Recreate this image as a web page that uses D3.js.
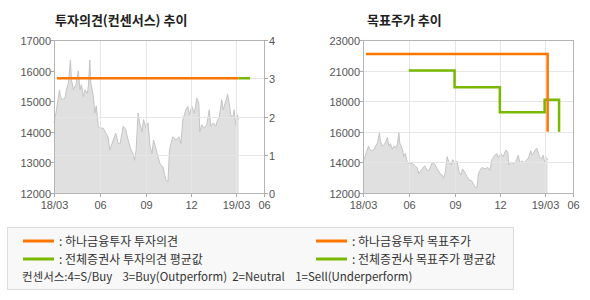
<!DOCTYPE html>
<html>
<head>
<meta charset="utf-8">
<script src="https://d3js.org/d3.v7.min.js"></script>
<style>
  body { margin: 0; background: #fff; }
  svg { display: block; font-family: "Noto Sans CJK KR", "DejaVu Sans", sans-serif; }
  .tick-label { font-size: 11px; fill: #555; font-family: "Liberation Sans", Arial, sans-serif; }
  .title { font-size: 13px; font-weight: bold; fill: #222; }
  .legend { font-size: 12px; fill: #333; }
  .legend-note { font-size: 11.5px; fill: #333; }
</style>
</head>
<body>
<svg width="590" height="300"></svg>
<script>
// x axis ticks
const tickDates = ['2018-03-01', '2018-06-01', '2018-09-01', '2018-12-01', '2019-03-01', '2019-04-27'];
const tickLabels = ['18/03', '06', '09', '12', '19/03', '06'];

// share price
const priceDates = [
  '2018-03-01','2018-03-05','2018-03-08','2018-03-12','2018-03-14','2018-03-18','2018-03-23','2018-03-26',
  '2018-03-30','2018-04-01','2018-04-03','2018-04-05','2018-04-09','2018-04-14','2018-04-19','2018-04-22',
  '2018-04-25','2018-04-29','2018-05-02','2018-05-07','2018-05-09','2018-05-12','2018-05-14','2018-05-19',
  '2018-05-22','2018-05-25','2018-05-29','2018-06-01','2018-06-08','2018-06-14','2018-06-18','2018-06-21',
  '2018-06-28','2018-07-03','2018-07-08','2018-07-12','2018-07-18','2018-07-23','2018-07-28','2018-08-03',
  '2018-08-07','2018-08-10','2018-08-13','2018-08-17','2018-08-20','2018-08-25','2018-08-28','2018-09-02',
  '2018-09-06','2018-09-10','2018-09-14','2018-09-17','2018-09-21','2018-09-26','2018-09-30','2018-10-06',
  '2018-10-09','2018-10-12','2018-10-16','2018-10-19','2018-10-22','2018-10-26','2018-11-01','2018-11-07',
  '2018-11-11','2018-11-15','2018-11-18','2018-11-21','2018-11-25','2018-11-28','2018-12-03','2018-12-08',
  '2018-12-13','2018-12-17','2018-12-19','2018-12-23','2018-12-28','2019-01-02','2019-01-07','2019-01-10',
  '2019-01-15','2019-01-20','2019-01-24','2019-01-27','2019-02-01','2019-02-04','2019-02-08','2019-02-13',
  '2019-02-16','2019-02-19','2019-02-23','2019-02-26','2019-03-01','2019-03-04','2019-03-07'
];
const prices = [
  14290,14610,14940,15370,15150,15050,15100,15370,
  15590,15960,16350,15700,15370,15540,15990,15370,
  15540,15150,15370,15260,15480,16350,15590,15150,
  14610,14850,14180,14120,14120,13950,13800,13400,
  13730,13950,13620,13620,14180,14080,13730,13400,
  13290,13070,13400,14610,14290,14000,14400,14120,
  14290,13510,13290,13730,13510,13180,12960,12850,
  12630,12420,12370,13400,13620,13840,13730,13840,
  13620,14400,14560,14720,14830,14560,14830,14610,
  15100,14940,14000,14230,14120,14230,14720,14180,
  14290,14180,14400,14450,15050,14720,14940,15230,
  14940,14560,14450,14720,14230,14560,14400
];

// investment opinion (consensus scale 0-4)
const opinionHanaDates = ['2018-03-07', '2019-03-07'];
const opinionHana = [3, 3];
const opinionAvgDates = ['2019-03-07', '2019-03-30'];
const opinionAvg = [3, 3];

// target price
const targetHanaDates = ['2018-03-07', '2019-03-07', '2019-03-07'];
const targetHana = [22000, 22000, 16400];
const targetAvgDates = ['2018-06-01', '2018-09-01', '2018-12-01', '2019-03-01', '2019-03-30', '2019-03-30'];
const targetAvg = [20800, 19600, 17800, 18700, 18700, 16400];

// axis ticks
const leftTicks = [12000, 13000, 14000, 15000, 16000, 17000];
const opinionTicks = [0, 1, 2, 3, 4];
const targetTicks = [12000, 14200, 16400, 18600, 20800, 23000];
const targetTickLabels = ['12000', '14000', '16000', '18000', '21000', '23000'];

const ORANGE = '#ff7500';
const GREEN = '#78b800';
const parse = d3.timeParse('%Y-%m-%d');
const svg = d3.select('svg');

const plotW = 210, plotTop = 40, plotBottom = 193;
const panels = [{ x0: 54 }, { x0: 363 }];

const priceData = priceDates.map((d, i) => ({ date: parse(d), value: prices[i] }));
const toSeries = (dates, vals) => dates.map((d, i) => ({ date: parse(d), value: vals[i] }));

function makeX(x0) {
  return d3.scaleTime()
    .domain([parse(tickDates[0]), parse(tickDates[tickDates.length - 1])])
    .range([x0, x0 + plotW]);
}

function drawFrame(g, x, x0) {
  // vertical grid
  g.selectAll('.vgrid')
    .data(tickDates.slice(1, -1))
    .enter().append('line')
    .attr('x1', d => Math.round(x(parse(d))) + 0.5)
    .attr('x2', d => Math.round(x(parse(d))) + 0.5)
    .attr('y1', plotTop).attr('y2', plotBottom)
    .attr('stroke', '#e6e6e6');

  // bottom ticks and labels
  tickDates.forEach((d, i) => {
    const px = Math.round(x(parse(d))) + 0.5;
    g.append('line').attr('x1', px).attr('x2', px)
      .attr('y1', plotBottom).attr('y2', plotBottom + 4).attr('stroke', '#aaa');
    g.append('text').attr('class', 'tick-label')
      .attr('x', px).attr('y', plotBottom + 16)
      .attr('text-anchor', 'middle')
      .text(tickLabels[i]);
  });
}

function drawBorder(g, x0) {
  g.append('rect')
    .attr('x', x0 + 0.5).attr('y', plotTop + 0.5)
    .attr('width', plotW).attr('height', plotBottom - plotTop)
    .attr('fill', 'none').attr('stroke', '#b5b5b5');
}

function drawPrice(g, x, y) {
  const area = d3.area().x(d => x(d.date)).y0(plotBottom).y1(d => y(d.value));
  const line = d3.line().x(d => x(d.date)).y(d => y(d.value));
  g.append('path').datum(priceData).attr('d', area).attr('fill', '#e0e0e0');
  g.append('path').datum(priceData).attr('d', line)
    .attr('fill', 'none').attr('stroke', '#c4c4c4').attr('stroke-width', 1);
}

function leftAxis(g, x0, y, ticks, labels) {
  ticks.forEach((t, i) => {
    const py = Math.round(y(t)) + 0.5;
    g.append('line').attr('x1', x0 - 3).attr('x2', x0).attr('y1', py).attr('y2', py).attr('stroke', '#aaa');
    g.append('text').attr('class', 'tick-label')
      .attr('x', x0 - 3).attr('y', py + 4)
      .attr('text-anchor', 'end')
      .text(labels ? labels[i] : t);
  });
}

// ---------- left chart: opinion ----------
{
  const x0 = panels[0].x0;
  const x = makeX(x0);
  const yPrice = d3.scaleLinear().domain([12000, 17000]).range([plotBottom, plotTop]);
  const yOp = d3.scaleLinear().domain([0, 4]).range([plotBottom, plotTop]);
  const g = svg.append('g');

  drawPrice(g, x, yPrice);
  g.selectAll('.hgrid').data([1, 2, 3]).enter().append('line')
    .attr('x1', x0).attr('x2', x0 + plotW)
    .attr('y1', d => Math.round(yOp(d)) + 0.5).attr('y2', d => Math.round(yOp(d)) + 0.5)
    .attr('stroke', '#e6e6e6');
  drawFrame(g, x, x0);
  drawBorder(g, x0);
  leftAxis(g, x0, yPrice, leftTicks);

  opinionTicks.forEach(t => {
    const py = Math.round(yOp(t)) + 0.5;
    g.append('line').attr('x1', x0 + plotW).attr('x2', x0 + plotW + 4).attr('y1', py).attr('y2', py).attr('stroke', '#aaa');
    g.append('text').attr('class', 'tick-label')
      .attr('x', x0 + plotW + 5).attr('y', py + 4)
      .text(t);
  });

  const line = d3.line().x(d => x(d.date)).y(d => yOp(d.value));
  g.append('path').datum(toSeries(opinionAvgDates, opinionAvg)).attr('d', line)
    .attr('fill', 'none').attr('stroke', GREEN).attr('stroke-width', 2.5);
  g.append('path').datum(toSeries(opinionHanaDates, opinionHana)).attr('d', line)
    .attr('fill', 'none').attr('stroke', ORANGE).attr('stroke-width', 2.5);

  svg.append('text').attr('class', 'title').attr('x', 55).attr('y', 25).text('투자의견(컨센서스) 추이');
}

// ---------- right chart: target price ----------
{
  const x0 = panels[1].x0;
  const x = makeX(x0);
  const y = d3.scaleLinear().domain([12000, 23000]).range([plotBottom, plotTop]);
  const g = svg.append('g');

  drawPrice(g, x, y);
  g.selectAll('.hgrid').data(targetTicks.slice(1, -1)).enter().append('line')
    .attr('x1', x0).attr('x2', x0 + plotW)
    .attr('y1', d => Math.round(y(d)) + 0.5).attr('y2', d => Math.round(y(d)) + 0.5)
    .attr('stroke', '#e6e6e6');
  drawFrame(g, x, x0);
  drawBorder(g, x0);
  leftAxis(g, x0, y, targetTicks, targetTickLabels);

  const line = d3.line().x(d => x(d.date)).y(d => y(d.value)).curve(d3.curveStepAfter);
  g.append('path').datum(toSeries(targetAvgDates, targetAvg)).attr('d', line)
    .attr('fill', 'none').attr('stroke', GREEN).attr('stroke-width', 2.5);
  g.append('path').datum(toSeries(targetHanaDates, targetHana)).attr('d', line)
    .attr('fill', 'none').attr('stroke', ORANGE).attr('stroke-width', 2.5);

  svg.append('text').attr('class', 'title').attr('x', 367).attr('y', 25).text('목표주가 추이');
}

// ---------- legend ----------
const legendItems = [
  { label: ': 하나금융투자 투자의견', color: ORANGE, x: 23, y: 241 },
  { label: ': 전체증권사 투자의견 평균값', color: GREEN, x: 23, y: 259 },
  { label: ': 하나금융투자 목표주가', color: ORANGE, x: 316, y: 241 },
  { label: ': 전체증권사 목표주가 평균값', color: GREEN, x: 316, y: 259 }
];
const legend = svg.append('g');
legend.append('rect').attr('x', 7.5).attr('y', 227.5).attr('width', 506).attr('height', 62)
  .attr('fill', '#f8f8f8').attr('stroke', '#dcdcdc');
legendItems.forEach(d => {
  legend.append('line').attr('x1', d.x).attr('x2', d.x + 31).attr('y1', d.y).attr('y2', d.y)
    .attr('stroke', d.color).attr('stroke-width', 3);
  legend.append('text').attr('class', 'legend').attr('x', d.x + 36).attr('y', d.y + 4.5).text(d.label);
});
legend.append('text').attr('class', 'legend-note').attr('x', 22).attr('y', 281)
  .attr('xml:space', 'preserve')
  .text('컨센서스:4=S/Buy    3=Buy(Outperform)  2=Neutral    1=Sell(Underperform)');
</script>
</body>
</html>
